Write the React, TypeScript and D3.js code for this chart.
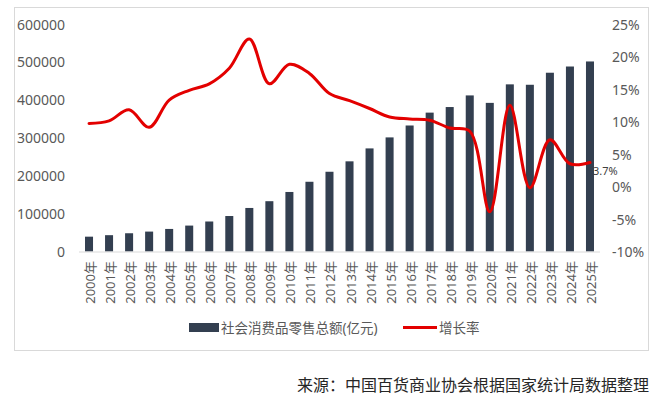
import * as d3 from 'd3';
import { useEffect, useRef } from 'react';

// годы
const years = [
  '2000年', '2001年', '2002年', '2003年', '2004年', '2005年', '2006年', '2007年', '2008年',
  '2009年', '2010年', '2011年', '2012年', '2013年', '2014年', '2015年', '2016年', '2017年',
  '2018年', '2019年', '2020年', '2021年', '2022年', '2023年', '2024年', '2025年',
];

// 社会消费品零售总额(亿元)
const retailSales = [
  39106, 43055, 48136, 52516, 59501, 68352, 79145, 93572, 114830, 132678, 156998, 183919,
  210307, 237810, 271896, 300931, 332316, 366262, 380987, 411649, 391981, 440823, 439733,
  471495, 487895, 501202,
];

// 增长率 (%)
const growthRate = [
  9.7, 10.1, 11.8, 9.1, 13.3, 14.8, 15.8, 18.2, 22.7, 15.8, 18.8, 17.4, 14.3, 13.2, 12.0,
  10.7, 10.4, 10.2, 9.0, 8.5, -3.9, 12.5, -0.2, 7.2, 3.5, 3.7,
];

const leftTicks = [0, 100000, 200000, 300000, 400000, 500000, 600000];
const rightTicks = [-10, -5, 0, 5, 10, 15, 20, 25];

const BAR_COLOR = '#333f50';
const LINE_COLOR = '#e30000';
const TEXT_COLOR = '#595959';
const FONT = "'Noto Sans', 'Noto Sans CJK SC', sans-serif";

const App = () => {
  const ref = useRef<SVGSVGElement>(null);

  useEffect(() => {
    if (!ref.current) return;
    const svg = d3.select(ref.current);
    svg.selectAll('*').remove();

    // рамка
    svg.append('rect')
      .attr('x', 14.5).attr('y', 7.5)
      .attr('width', 634).attr('height', 343)
      .attr('fill', 'white')
      .attr('stroke', '#d9d9d9');

    const x = d3.scaleBand<string>()
      .domain(years)
      .range([79, 600])
      .paddingInner(0.6)
      .paddingOuter(0.3);

    const yL = d3.scaleLinear().domain([0, 600000]).range([251.5, 24]);
    const yR = d3.scaleLinear().domain([-10, 25]).range([251.5, 24]);

    // подписи левой оси
    svg.append('g')
      .selectAll('text')
      .data(leftTicks)
      .join('text')
      .attr('x', 65)
      .attr('y', d => yL(d))
      .attr('text-anchor', 'end')
      .attr('dominant-baseline', 'central')
      .attr('font-size', 14)
      .attr('font-family', FONT)
      .attr('fill', TEXT_COLOR)
      .text(d => String(d));

    // подписи правой оси
    svg.append('g')
      .selectAll('text')
      .data(rightTicks)
      .join('text')
      .attr('x', 612)
      .attr('y', d => yR(d))
      .attr('text-anchor', 'start')
      .attr('dominant-baseline', 'central')
      .attr('font-size', 14)
      .attr('font-family', FONT)
      .attr('fill', TEXT_COLOR)
      .text(d => `${d}%`);

    // столбцы
    svg.append('g')
      .selectAll('rect')
      .data(retailSales)
      .join('rect')
      .attr('x', (_, i) => x(years[i])!)
      .attr('y', d => yL(d))
      .attr('width', x.bandwidth())
      .attr('height', d => yL(0) - yL(d))
      .attr('fill', BAR_COLOR);

    // ось X
    svg.append('line')
      .attr('x1', 79).attr('x2', 600)
      .attr('y1', 252).attr('y2', 252)
      .attr('stroke', '#d9d9d9');

    svg.append('g')
      .selectAll('text')
      .data(years)
      .join('text')
      .attr('transform', d => `translate(${x(d)! + x.bandwidth() / 2 + 1}, 261) rotate(-90)`)
      .attr('text-anchor', 'end')
      .attr('dominant-baseline', 'central')
      .attr('font-size', 13)
      .attr('font-family', FONT)
      .attr('fill', TEXT_COLOR)
      .text(d => d);

    // линия роста
    const line = d3.line<number>()
      .x((_, i) => x(years[i])! + x.bandwidth() / 2)
      .y(d => yR(d))
      .curve(d3.curveCatmullRom.alpha(0.5));

    svg.append('path')
      .datum(growthRate)
      .attr('d', line)
      .attr('fill', 'none')
      .attr('stroke', LINE_COLOR)
      .attr('stroke-width', 3)
      .attr('stroke-linecap', 'round');

    // подпись последней точки
    const last = growthRate.length - 1;
    svg.append('text')
      .attr('x', x(years[last])! + x.bandwidth() / 2 + 3)
      .attr('y', yR(growthRate[last]) + 8)
      .attr('dominant-baseline', 'central')
      .attr('font-size', 11)
      .attr('font-family', FONT)
      .attr('fill', '#404040')
      .text(`${growthRate[last]}%`);

    // легенда
    const legend = svg.append('g');
    legend.append('rect')
      .attr('x', 189).attr('y', 323)
      .attr('width', 30).attr('height', 9)
      .attr('fill', BAR_COLOR);
    legend.append('text')
      .attr('x', 221).attr('y', 327.5)
      .attr('dominant-baseline', 'central')
      .attr('font-size', 13.5)
      .attr('font-family', FONT)
      .attr('fill', TEXT_COLOR)
      .text('社会消费品零售总额(亿元)');
    legend.append('line')
      .attr('x1', 403).attr('x2', 437)
      .attr('y1', 327.5).attr('y2', 327.5)
      .attr('stroke', LINE_COLOR)
      .attr('stroke-width', 3);
    legend.append('text')
      .attr('x', 439).attr('y', 327.5)
      .attr('dominant-baseline', 'central')
      .attr('font-size', 13.5)
      .attr('font-family', FONT)
      .attr('fill', TEXT_COLOR)
      .text('增长率');

    // источник
    svg.append('text')
      .attr('x', 649).attr('y', 385)
      .attr('text-anchor', 'end')
      .attr('dominant-baseline', 'central')
      .attr('font-size', 16)
      .attr('font-family', FONT)
      .attr('fill', '#262626')
      .text('来源：中国百货商业协会根据国家统计局数据整理');
  }, []);

  return (
    <svg
      ref={ref}
      width="669"
      height="403"
      style={{ position: 'absolute', left: 0, top: 0, background: 'white' }}
    ></svg>
  );
};

export default App;
